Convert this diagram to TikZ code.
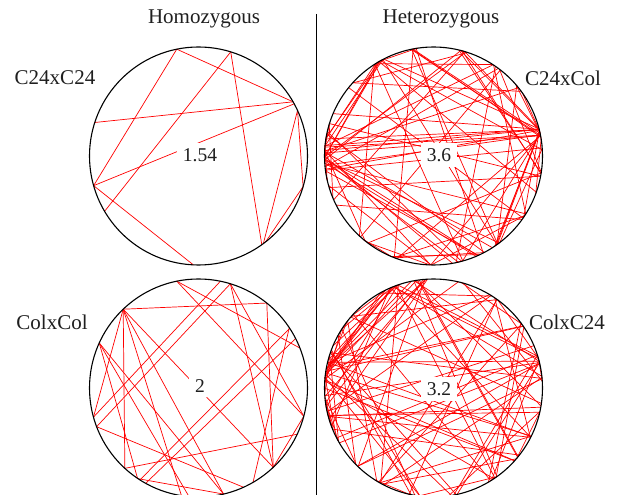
\documentclass[tikz,border=0pt]{standalone}
\usepackage{fontspec}
\setmainfont{Liberation Serif}
\newcommand\chordset[2]{%
  \foreach \a/\b in {#2}{%
    \draw[chord] ([shift={(\a:109pt)}]#1) -- ([shift={(\b:109pt)}]#1);%
  }%
}
\newcommand\randchords[4]{% center, list, count, jitter
  \foreach \i in {1,...,#3}{%
    \pgfmathrandomitem{\ha}{#2}%
    \pgfmathrandomitem{\hb}{#2}%
    \pgfmathsetmacro{\aa}{\ha+#4*rand}%
    \pgfmathsetmacro{\bb}{\hb+#4*rand}%
    \draw[chord] ([shift={(\aa:109pt)}]#1) -- ([shift={(\bb:109pt)}]#1);%
  }%
}
\begin{document}
\begin{tikzpicture}[x=1pt,y=1pt,
  chord/.style={red, line width=0.7pt},
  ring/.style={black, line width=1.1pt},
  val/.style={fill=white, inner xsep=6pt, inner ysep=5pt, font=\fontsize{19.5}{19.5}\selectfont, text=black!88},
  lab/.style={font=\fontsize{21}{21}\selectfont, text=black!88},
]
\useasboundingbox (0,0) rectangle (619,495);
\clip (0,0) rectangle (619,495);
\coordinate (TL) at (198.5,339);
\coordinate (TR) at (433.5,339);
\coordinate (BL) at (198.5,107);
\coordinate (BR) at (433.5,107);

% top-left chords
\chordset{TL}{101.5/195.8, 72.8/210.5, 101.5/29.8, 162.1/29.8, 72.8/305.5,
  195.8/267.3, 195.8/28.6, 24.7/306.5, 24.7/343.7, 343.7/308}

% bottom-left chords
\chordset{BL}{133.7/51.2, 51.2/313.3, 133.7/227.5, 133.7/195.5, 133.7/261,
  133.7/283.3, 133.7/313.3, 155.6/283.3, 155.6/236, 78.4/195.5, 73/200.8,
  237.5/33.2, 241/27, 101.5/21.5, 101.5/345, 73/313.3, 73/345, 227.5/334.9,
  200.8/294.4, 236.3/283.3, 345/313.3, 155.6/265, 33.6/300}

% top-right (dense)
\pgfmathsetseed{11}
\pgfmathdeclarerandomlist{hubTR}{{120}{120}{120}{74}{74}{12}{12}{12}{14}{10}{38}{165}{170}{175}{180}{160}{190}{195}{205}{215}{305}{305}{295}{267}{340}{3}{250}{230}{140}{100}{55}{325}{350}{283}{185}{172}}
\randchords{TR}{hubTR}{95}{3}

% bottom-right (dense)
\pgfmathsetseed{23}
\pgfmathdeclarerandomlist{hubBR}{{111}{111}{118}{56}{56}{15}{15}{15}{20}{168}{172}{178}{183}{188}{160}{200}{210}{225}{240}{303}{303}{335}{320}{95}{100}{140}{35}{260}{280}{350}{5}{150}{75}{175}{195}}
\randchords{BR}{hubBR}{95}{3}

% circles
\foreach \c in {TL,TR,BL,BR}{\draw[ring] (\c) circle[radius=109];}

% values
\node[val] (v1) at (200,340) {1.54};
\node[val] (v2) at (439,340) {3.6};
\node[val] (v3) at (200,109) {2};
\node[val] (v4) at (439,106) {3.2};

% headings and labels
\node[lab] (hom) at (204,476) {Homozygous};
\node[lab] (het) at (441,476) {Heterozygous};
\node[lab] (l1) at (55,417) {C24xC24};
\node[lab] (l2) at (563,417) {C24xCol};
\node[lab] (l3) at (52,173) {ColxCol};
\node[lab] (l4) at (567,173) {ColxC24};

% divider
\coordinate (dtop) at (316,481);
\coordinate (dbot) at (316,0);
\draw[black, line width=0.9pt] (dtop) -- (dbot);
\end{tikzpicture}
\end{document}
